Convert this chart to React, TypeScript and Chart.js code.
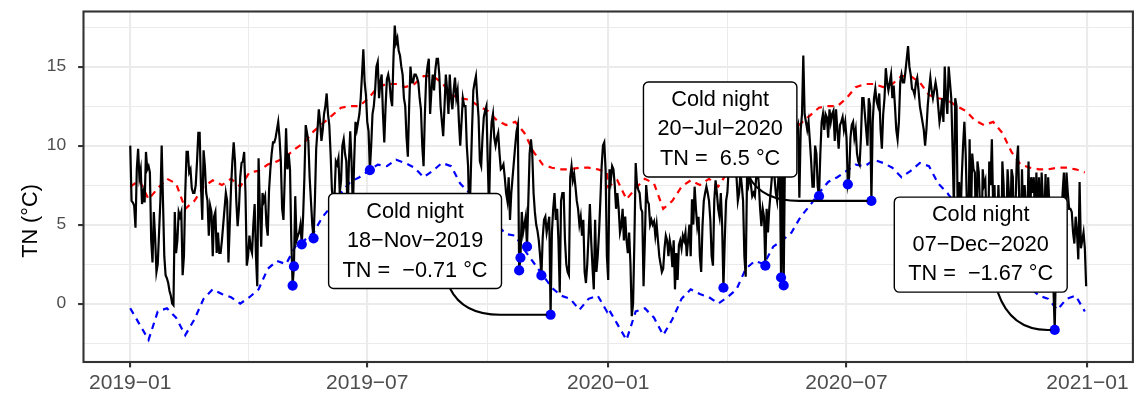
import React, { useEffect, useRef } from 'react';
import { Chart, registerables } from 'chart.js';

Chart.register(...registerables);

// ---------------- data ----------------
// Daily minimum temperature (°C), 2019-01-01 .. 2019-12-31
const tn2019: number[] = [
  10.0, 6.5, 6.4, 6.2, 4.8, 8.5, 9.8, 8.0, 8.5, 6.3,
  7.0, 6.4, 9.6, 8.5, 8.7, 8.3, 4.0, 2.6, 5.8, 4.2,
  2.0, 2.5, 4.5, 6.5, 10.0, 6.5, 3.0, 1.8, 1.6, 1.3,
  0.8, 0.5, 0.0, -0.1, 5.8, 3.2, 4.0, 5.8, 5.5, 5.8,
  1.8, 3.0, 7.0, 9.6, 9.6, 8.3, 8.5, 7.3, 7.0, 7.0,
  7.5, 9.0, 10.8, 10.8, 7.5, 5.3, 9.7, 8.7, 7.0, 6.5,
  4.3, 6.2, 5.8, 3.0, 5.5, 5.8, 3.2, 4.5, 3.2, 3.2,
  4.0, 5.0, 6.0, 7.0, 6.5, 2.6, 5.0, 7.4, 9.0, 10.2,
  9.0, 6.5, 4.9, 6.0, 8.0, 8.9, 9.0, 9.6, 7.0, 2.4,
  3.0, 4.3, 3.5, 3.2, 5.0, 6.3, 3.0, 1.1, 9.2, 6.0,
  3.6, 7.0, 6.5, 6.8, 5.0, 4.3, 7.2, 8.5, 9.5, 10.2,
  10.2, 10.5, 11.0, 11.5, 10.5, 9.0, 6.0, 5.3, 8.0, 11.1,
  8.5, 9.5, 8.5, 4.0, 1.14, 2.35, 6.8, 4.0, 4.3, 4.5,
  5.0, 3.75, 5.5, 8.0, 11.3, 10.8, 10.3, 8.0, 6.5, 5.0,
  4.13, 6.5, 9.8, 11.0, 12.3, 11.5, 10.3, 11.0, 12.0, 12.5,
  13.3, 12.0, 11.3, 9.5, 7.2, 6.5, 6.8, 9.0, 8.8, 9.2,
  7.0, 7.8, 10.0, 10.4, 9.5, 9.0, 5.5, 9.0, 10.9, 9.0,
  6.0, 9.0, 11.5, 11.0, 11.5, 12.0, 13.0, 14.5, 16.1, 14.0,
  13.2, 11.5, 10.9, 8.45, 10.0, 12.0, 12.5, 13.5, 15.0, 15.3,
  13.0, 14.0, 14.5, 12.0, 10.2, 12.5, 14.2, 14.5, 14.0, 13.0,
  12.5, 15.5, 17.6, 16.5, 16.8, 16.0, 15.7, 15.0, 14.5, 13.0,
  12.5, 10.5, 9.3, 12.5, 15.0, 14.0, 14.0, 14.5, 14.5, 14.3,
  14.0, 13.0, 12.3, 10.0, 8.7, 12.0, 14.3, 15.0, 15.5, 12.0,
  13.5, 14.5, 13.5, 14.8, 15.5, 15.5, 14.5, 12.5, 11.5, 10.6,
  12.5, 14.5, 13.5, 12.0, 14.5, 13.0, 12.3, 13.5, 14.3, 13.0,
  13.5, 11.5, 10.0, 11.5, 13.0, 12.5, 12.5, 10.0, 8.7, 5.0,
  8.0, 11.0, 13.5, 14.0, 14.4, 13.0, 11.8, 9.0, 8.7, 10.5,
  11.8, 12.2, 12.5, 9.0, 6.0, 10.0, 11.5, 12.0, 10.5, 10.0,
  10.5, 10.8, 9.5, 8.5, 8.6, 8.8, 8.0, 7.0, 6.5, 8.0,
  5.3, 7.0, 8.0, 9.0, 10.0, 10.9, 11.3, 2.1, 2.9, 5.8,
  4.5, 5.0, 5.5, 3.6, 6.5, 9.5, 10.4, 9.5, 7.0, 5.8,
  5.0, 4.6, 4.0, 3.0, 1.78, 4.2, 5.3, 5.5, 4.5, 5.0,
  5.5, -0.71, 4.5, 6.0, 7.0, 5.3, 6.0, 4.0, 0.7, 6.5,
  7.0, 7.0, 4.0, 2.5, 2.0, 1.8, 8.0, 8.7, 7.8, 8.2,
  7.4, 6.5, 6.0, 5.0, 5.5, 4.3, 5.3, 2.0, 1.3, 2.5,
  4.3, 6.3, 4.0, 2.3, 0.9, 5.3, 2.0, 3.0, 4.5, 6.5,
  8.7, 10.0, 10.2, 8.5, 3.0,
];

// Daily minimum temperature (°C), 2020-01-01 .. 2020-12-31
const tn2020: number[] = [
  1.5, 8.5, 7.8, 8.7, 8.5, 7.5, 6.0, 7.0, 6.0, 4.5,
  4.9, 6.0, 4.0, 5.5, 4.0, 3.2, 4.5, 2.5, -0.8, 0.0,
  4.0, 8.9, 7.5, 7.2, 7.0, 6.0, 5.8, 1.1, 4.0, 7.5,
  6.5, 6.3, 5.0, 5.3, 5.0, 5.2, 4.3, 5.0, 4.0, 3.0,
  2.5, 2.0, 2.2, 3.5, 4.3, 4.0, 3.0, 4.0, 3.5, 2.3,
  4.0, 0.9, 3.2, 1.5, 3.7, 4.0, 3.5, 4.3, 4.0, 4.5,
  3.0, 4.0, 5.0, 3.0, 6.6, 5.0, 7.4, 6.0, 4.9, 5.5,
  3.0, 2.0, 4.9, 6.5, 7.0, 7.4, 7.0, 6.5, 5.3, 3.0,
  2.4, 6.5, 7.8, 7.0, 6.0, 5.5, 7.0, 5.0, 1.0, 4.0,
  6.5, 7.0, 8.5, 9.0, 8.5, 8.5, 10.0, 11.0, 8.0, 6.5,
  7.0, 8.3, 7.5, 6.5, 3.0, 1.7, 7.9, 7.5, 8.2, 7.5,
  6.8, 7.0, 6.8, 8.0, 8.5, 7.6, 6.0, 4.9, 6.0, 5.5,
  2.4, 6.0, 4.5, 6.0, 7.0, 8.0, 9.5, 8.0, 7.0, 6.5,
  8.0, 9.0, 1.65, 9.0, 1.15, 9.5, 10.0, 11.0, 10.5, 12.0,
  11.0, 10.5, 11.5, 12.0, 11.0, 11.3, 6.7, 11.0, 12.0, 15.7,
  12.0, 11.5, 11.0, 11.5, 10.3, 9.0, 7.4, 7.4, 10.0, 9.5,
  7.4, 6.8, 9.5, 11.5, 12.0, 11.0, 12.0, 11.8, 10.5, 12.3,
  11.5, 12.0, 12.2, 10.3, 12.3, 11.0, 9.8, 11.3, 11.5, 11.8,
  11.0, 11.5, 10.5, 7.55, 8.0, 10.5, 11.3, 11.5, 10.5, 11.0,
  9.5, 9.0, 8.8, 10.5, 13.0, 13.0, 12.0, 11.0, 10.0, 13.0,
  12.5, 6.5, 11.5, 13.0, 13.6, 12.8, 12.5, 13.3, 11.0, 9.8,
  12.0, 13.0, 14.9, 14.0, 13.5, 14.0, 14.5, 13.0, 13.8, 12.5,
  11.0, 10.4, 11.5, 14.0, 14.5, 14.0, 14.0, 14.7, 15.5, 16.3,
  15.0, 14.5, 13.6, 13.5, 13.2, 14.0, 14.3, 13.5, 12.5, 12.0,
  11.5, 11.0, 10.0, 11.0, 12.5, 13.5, 14.3, 13.5, 13.0, 13.5,
  14.0, 13.5, 12.5, 11.5, 12.0, 13.0, 11.5, 15.0, 13.0, 12.0,
  15.0, 14.0, 13.0, 9.8, 6.0, 13.0, 12.5, 5.0, 7.7, 5.0,
  8.0, 10.0, 11.5, 9.5, 6.0, 4.0, 10.4, 5.0, 9.5, 8.5,
  8.3, 4.0, 9.0, 8.3, 6.0, 3.0, 8.5, 7.5, 7.8, 5.0,
  3.0, 9.0, 7.5, 10.4, 6.0, 7.5, 4.0, 4.5, 7.5, 5.0,
  2.0, 9.0, 7.5, 3.0, 5.0, 8.5, 7.0, 4.5, 8.5, 8.0,
  3.0, 6.0, 9.0, 10.0, 6.0, 4.0, 8.5, 5.0, 7.5, 6.0,
  5.0, 9.0, 4.0, 8.0, 7.0, 8.0, 5.0, 8.3, 5.0, 8.0,
  4.0, 8.3, 6.5, 5.0, 8.2, 4.0, 8.0, 6.0, 3.0, 2.0,
  1.0, -1.67, 3.0, 5.0, 4.0, 6.0, 5.0, 7.0, 8.3, 4.9,
  8.3, 7.0, 6.0, 6.0, 5.8, 4.5, 3.8, 5.5, 4.5, 2.8,
  7.7, 3.5, 4.0, 4.5, 3.5, 1.1,
];

// Day-of-year thresholds, one value per week (day 0, 7, 14, ...)
const thresholdStepDays = 7;
const upperThreshold: number[] = [
  7.4, 7.8, 6.6, 7.3, 7.9, 7.6, 6.0, 6.5, 7.4, 7.8,
  7.5, 7.9, 7.4, 8.3, 8.4, 8.8, 9.0, 9.3, 9.8, 10.2,
  10.9, 11.4, 11.9, 12.4, 12.5, 12.5, 13.0, 13.7, 13.9, 13.9,
  13.7, 13.9, 14.4, 14.4, 14.0, 13.2, 13.0, 12.9, 12.5, 12.2,
  11.6, 11.3, 11.5, 10.8, 9.6, 8.8, 8.6, 8.5, 8.5, 8.6,
  8.6, 8.5, 8.3,
];
const lowerThreshold: number[] = [
  -0.3, -1.3, -2.3, -0.5, -0.3, -0.9, -2.0, -1.0, 0.3, 0.9,
  0.6, 0.4, 0.0, 0.4, 0.9, 2.2, 2.7, 2.5, 3.6, 4.0,
  4.5, 5.5, 6.2, 7.0, 7.7, 8.0, 8.4, 8.8, 8.7, 9.1,
  8.9, 8.6, 8.0, 8.4, 8.9, 8.7, 7.6, 7.0, 6.2, 5.6,
  5.0, 4.4, 4.3, 3.4, 2.6, 1.8, 1.0, 0.5, 0.3, -0.4,
  0.3, 0.5, -0.5,
];
const yearStartDays = [0, 365];

// Cold nights (day index since 2019-01-01)
const coldNightDays = [124, 125, 131, 140, 183, 297, 298, 303, 314, 321, 453, 485, 497, 499, 526, 548, 566, 706];

// Labelled cold nights
const labelDays = [321, 566, 706];
const labelDates = ['18−Nov−2019', '20−Jul−2020', '07−Dec−2020'];

// Axis ticks
const xTickDays = [0, 90, 181, 273, 365, 456, 547, 639, 731];
const xTickLabels = ['2019−01', '', '2019−07', '', '2020−01', '', '2020−07', '', '2021−01'];
const yTickValues = [-2.5, 0, 2.5, 5, 7.5, 10, 12.5, 15, 17.5];
const yTickLabels = ['', '0', '', '5', '', '10', '', '15', ''];

// ---------------- layout / style ----------------
const W = 1138;
const H = 394;
const FONT = "'Liberation Sans', Arial, sans-serif";
const labelCenterX = [217.5, 450.5, 649.5]; // data coords of label boxes
const labelCenterY = [3.96, 11.02, 3.73];
const segStartDx = [35, 29, 17];
const LABEL_FONT = 21.7;
const BOX_H = 95;
const Y_TITLE_CENTER = 221;

const allTn = [...tn2019, ...tn2020];
const fmt = (v: number) => String(v).replace('-', '−');

function roundRectPath(ctx: CanvasRenderingContext2D, x: number, y: number, w: number, h: number, r: number) {
  ctx.beginPath();
  ctx.moveTo(x + r, y);
  ctx.lineTo(x + w - r, y);
  ctx.arcTo(x + w, y, x + w, y + r, r);
  ctx.lineTo(x + w, y + h - r);
  ctx.arcTo(x + w, y + h, x + w - r, y + h, r);
  ctx.lineTo(x + r, y + h);
  ctx.arcTo(x, y + h, x, y + h - r, r);
  ctx.lineTo(x, y + r);
  ctx.arcTo(x, y, x + r, y, r);
  ctx.closePath();
}

const decorPlugin = {
  id: 'decor',
  afterDatasetsDraw(chart: any) {
    const { ctx, chartArea, scales } = chart;
    const xs = scales.x;
    const ys = scales.y;
    ctx.save();
    // connectors
    labelDays.forEach((d, k) => {
      const px = xs.getPixelForValue(d);
      const py = ys.getPixelForValue(allTn[d]);
      const cx = xs.getPixelForValue(labelCenterX[k]);
      const cy = ys.getPixelForValue(labelCenterY[k]);
      const sx = cx + segStartDx[k];
      const sy = cy + BOX_H / 2;
      ctx.beginPath();
      ctx.moveTo(sx, sy);
      ctx.quadraticCurveTo(sx + 13, py, sx + 50, py);
      ctx.lineTo(px - 4, py);
      ctx.strokeStyle = '#000000';
      ctx.lineWidth = 2.1;
      ctx.stroke();
    });
    // label boxes
    ctx.font = `${LABEL_FONT}px ${FONT}`;
    labelDays.forEach((d, k) => {
      const lines = ['Cold night', labelDates[k], `TN =  ${fmt(allTn[d])} °C`];
      const cx = xs.getPixelForValue(labelCenterX[k]);
      const cy = ys.getPixelForValue(labelCenterY[k]);
      const tw = Math.max(...lines.map((l) => ctx.measureText(l).width));
      const bw = tw + 28;
      const top = cy - BOX_H / 2;
      roundRectPath(ctx, cx - bw / 2, top, bw, BOX_H, 5);
      ctx.fillStyle = '#FFFFFF';
      ctx.fill();
      ctx.strokeStyle = '#000000';
      ctx.lineWidth = 1.4;
      ctx.stroke();
      ctx.fillStyle = '#000000';
      ctx.textAlign = 'center';
      ctx.textBaseline = 'alphabetic';
      lines.forEach((l, i) => ctx.fillText(l, cx, top + 24 + i * 29.5));
    });
    // panel border
    ctx.strokeStyle = '#333333';
    ctx.lineWidth = 2.1;
    ctx.strokeRect(chartArea.left, chartArea.top, chartArea.right - chartArea.left, chartArea.bottom - chartArea.top);
    // y title
    ctx.save();
    ctx.translate(31, Y_TITLE_CENTER);
    ctx.rotate(-Math.PI / 2);
    ctx.font = `${LABEL_FONT}px ${FONT}`;
    ctx.fillStyle = '#000000';
    ctx.textAlign = 'center';
    ctx.textBaseline = 'middle';
    ctx.fillText('TN (°C)', 0, 0);
    ctx.restore();
    ctx.restore();
  },
};

const majorX = [0, 181, 365, 547, 731];
const majorY = [0, 5, 10, 15];

export default function App() {
  const ref = useRef<HTMLCanvasElement>(null);
  useEffect(() => {
    document.body.style.margin = '0';
    const tnData = allTn.map((v, i) => ({ x: i, y: v }));
    const upperData: { x: number; y: number }[] = [];
    const lowerData: { x: number; y: number }[] = [];
    yearStartDays.forEach((off) => {
      upperThreshold.forEach((v, i) => upperData.push({ x: off + i * thresholdStepDays, y: v }));
      lowerThreshold.forEach((v, i) => lowerData.push({ x: off + i * thresholdStepDays, y: v }));
    });
    const coldData = coldNightDays.map((d) => ({ x: d, y: allTn[d] }));

    const chart = new Chart(ref.current as HTMLCanvasElement, {
      type: 'line',
      data: {
        datasets: [
          {
            type: 'scatter',
            data: coldData,
            pointRadius: 5.1,
            pointBackgroundColor: '#0000FF',
            pointBorderWidth: 0,
            showLine: false,
          } as any,
          {
            data: tnData,
            borderColor: '#000000',
            borderWidth: 2.2,
            pointRadius: 0,
            tension: 0,
          },
          {
            data: upperData,
            borderColor: '#FF0000',
            borderWidth: 2.2,
            borderDash: [6.5, 5.5],
            pointRadius: 0,
            tension: 0,
          },
          {
            data: lowerData,
            borderColor: '#0000FF',
            borderWidth: 2.2,
            borderDash: [6.5, 5.5],
            pointRadius: 0,
            tension: 0,
          },
        ],
      },
      options: {
        animation: false,
        responsive: false,
        devicePixelRatio: 1,
        layout: { padding: { top: 11.5, left: 0, right: 0.5, bottom: 0 } },
        plugins: { legend: { display: false }, tooltip: { enabled: false } },
        scales: {
          x: {
            type: 'linear',
            min: -35.7,
            max: 765.7,
            afterBuildTicks: (s: any) => {
              s.ticks = xTickDays.map((v) => ({ value: v }));
            },
            afterFit: (s: any) => {
              s.height = 32;
              s.paddingLeft = 0;
              s.paddingRight = 0;
            },
            ticks: {
              autoSkip: false,
              maxRotation: 0,
              minRotation: 0,
              padding: 3.5,
              color: '#4D4D4D',
              font: { family: FONT, size: 21 },
              callback: (_v: any, i: number) => xTickLabels[i],
            },
            grid: {
              color: '#EBEBEB',
              lineWidth: (c: any) => (c.tick && majorX.includes(c.tick.value) ? 2.1 : 1.05),
              tickLength: 5.4,
              tickWidth: 2.1,
              tickColor: (c: any) => (c.tick && majorX.includes(c.tick.value) ? '#333333' : 'rgba(0,0,0,0)'),
            },
            border: { display: false },
          },
          y: {
            type: 'linear',
            min: -3.7,
            max: 18.49,
            afterBuildTicks: (s: any) => {
              s.ticks = yTickValues.map((v) => ({ value: v }));
            },
            afterFit: (s: any) => {
              s.width = 83.5;
              s.paddingTop = 0;
              s.paddingBottom = 0;
            },
            ticks: {
              autoSkip: false,
              padding: 12,
              color: '#4D4D4D',
              font: { family: FONT, size: 17.4 },
              callback: (_v: any, i: number) => yTickLabels[i],
            },
            grid: {
              color: '#EBEBEB',
              lineWidth: (c: any) => (c.tick && majorY.includes(c.tick.value) ? 2.1 : 1.05),
              tickLength: 5.4,
              tickWidth: 2.1,
              tickColor: (c: any) => (c.tick && majorY.includes(c.tick.value) ? '#333333' : 'rgba(0,0,0,0)'),
            },
            border: { display: false },
          },
        },
      },
      plugins: [decorPlugin],
    } as any);
    return () => chart.destroy();
  }, []);
  return (
    <div style={{ position: 'absolute', left: 0, top: 0, width: W, height: H, background: '#FFFFFF' }}>
      <canvas ref={ref} width={W} height={H} style={{ width: W, height: H, display: 'block' }} />
    </div>
  );
}
